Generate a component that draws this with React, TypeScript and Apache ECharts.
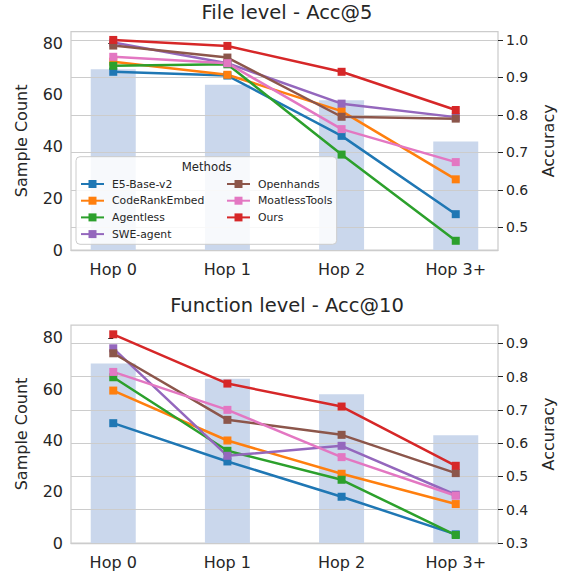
import React, { useEffect, useRef } from "react";
import * as echarts from "echarts";

const categories = ["Hop 0", "Hop 1", "Hop 2", "Hop 3+"];
const methods = ["E5-Base-v2", "CodeRankEmbed", "Agentless", "SWE-agent", "Openhands", "MoatlessTools", "Ours"];
const methodColors = ["#1f77b4", "#ff7f0e", "#2ca02c", "#9467bd", "#8c564b", "#e377c2", "#d62728"];

const sampleCountsFile = [70, 64, 58, 42];
const sampleCountsFunc = [70, 64, 58, 42];

// File level - Acc@5
const fileE5 = [0.915, 0.905, 0.744, 0.535];
const fileCodeRank = [0.942, 0.907, 0.81, 0.628];
const fileAgentless = [0.931, 0.935, 0.694, 0.464];
const fileSWE = [0.993, 0.938, 0.83, 0.794];
const fileOpenhands = [0.985, 0.953, 0.795, 0.79];
const fileMoatless = [0.955, 0.938, 0.762, 0.674];
const fileOurs = [1.0, 0.984, 0.915, 0.813];

// Function level - Acc@10
const funcE5 = [0.66, 0.545, 0.439, 0.326];
const funcCodeRank = [0.758, 0.608, 0.508, 0.417];
const funcAgentless = [0.798, 0.577, 0.49, 0.324];
const funcSWE = [0.885, 0.562, 0.592, 0.445];
const funcOpenhands = [0.87, 0.67, 0.625, 0.51];
const funcMoatless = [0.814, 0.7, 0.558, 0.442];
const funcOurs = [0.927, 0.779, 0.71, 0.532];

const countTicks = [0, 20, 40, 60, 80];
const fileAccTicks = [0.5, 0.6, 0.7, 0.8, 0.9, 1.0];
const funcAccTicks = [0.3, 0.4, 0.5, 0.6, 0.7, 0.8, 0.9];

const FONT = "DejaVu Sans";
const TXT = "#262626";
const GRIDC = "#cccccc";

export default function App() {
  const ref = useRef<HTMLDivElement>(null);
  useEffect(() => {
    if (!ref.current) return;
    const chart = echarts.init(ref.current, undefined, { renderer: "svg" });

    const fileVals = [fileE5, fileCodeRank, fileAgentless, fileSWE, fileOpenhands, fileMoatless, fileOurs];
    const funcVals = [funcE5, funcCodeRank, funcAgentless, funcSWE, funcOpenhands, funcMoatless, funcOurs];

    const grids = [
      { left: 71, top: 31.7, width: 432, height: 218.3 },
      { left: 71, top: 325, width: 432, height: 218 },
    ];

    const xAxes = [0, 1].map((g) => ({
      type: "value",
      gridIndex: g,
      min: -0.37,
      max: 3.37,
      axisLine: { show: true, lineStyle: { color: GRIDC, width: 1.25 } },
      axisTick: { show: false },
      splitLine: { show: false },
      z: 3,
      axisLabel: {
        customValues: [0, 1, 2, 3],
        formatter: (v: number) => (Math.abs(v - Math.round(v)) < 1e-6 && categories[Math.round(v)] ? categories[Math.round(v)] : ""),
        fontSize: 16,
        fontFamily: FONT,
        color: TXT,
        margin: 11,
      },
    }));

    const leftAxis = (g: number, max: number) => ({
      type: "value",
      gridIndex: g,
      position: "left",
      min: 0,
      max,
      name: "Sample Count",
      nameLocation: "middle",
      nameGap: 42,
      nameRotate: 90,
      nameTextStyle: { fontSize: 16, fontFamily: FONT, color: TXT },
      axisLine: { show: false },
      axisTick: { show: true, customValues: countTicks, length: 5, lineStyle: { color: TXT, width: 1 } },
      axisLabel: { customValues: countTicks, fontSize: 16, fontFamily: FONT, color: TXT, margin: 8 },
      splitLine: { show: false },
    });

    const rightAxis = (g: number, min: number, max: number, ticks: number[]) => ({
      type: "value",
      gridIndex: g,
      position: "right",
      min,
      max,
      z: 3,
      name: "Accuracy",
      nameLocation: "middle",
      nameGap: 42,
      nameRotate: 90,
      nameTextStyle: { fontSize: 16, fontFamily: FONT, color: TXT },
      axisLine: { show: false },
      axisTick: { show: true, customValues: ticks, length: 5, lineStyle: { color: TXT, width: 1 } },
      axisLabel: {
        customValues: ticks,
        formatter: (v: number) => v.toFixed(1),
        fontSize: 14,
        fontFamily: FONT,
        color: TXT,
        margin: 8,
      },
      splitLine: { show: true, lineStyle: { color: GRIDC, width: 1 } },
    });

    const yAxes = [
      leftAxis(0, 84.5),
      rightAxis(0, 0.4394, 1.022, fileAccTicks),
      leftAxis(1, 85),
      rightAxis(1, 0.3, 0.955, funcAccTicks),
    ];

    const barSeries = (g: number, counts: number[]) => ({
      type: "bar",
      name: "Sample Count " + g,
      xAxisIndex: g,
      yAxisIndex: 2 * g,
      data: counts.map((c, j) => [j, c]),
      barWidth: 45,
      itemStyle: { color: "#cad7ec" },
      z: 2,
      silent: true,
    });

    const lineSeries = (g: number, vals: number[][]) =>
      methods.map((m, i) => ({
        type: "line",
        name: m,
        xAxisIndex: g,
        yAxisIndex: 2 * g + 1,
        data: vals[i].map((v, j) => [j, v]),
        symbol: "rect",
        symbolSize: 8,
        lineStyle: { width: 2.5, color: methodColors[i] },
        itemStyle: { color: methodColors[i] },
        z: 5,
        silent: true,
      }));

    const legendCommon = {
      orient: "vertical",
      itemWidth: 23,
      itemHeight: 10,
      itemGap: 4.7,
      padding: 0,
      z: 20,
      selectedMode: false,
      textStyle: { fontSize: 10.8, fontFamily: FONT, color: TXT, lineHeight: 12, padding: [0, 0, 0, 3] },
    };

    chart.setOption({
      animation: false,
      grid: grids.map((g) => ({ ...g, show: true, borderColor: GRIDC, borderWidth: 1.25, backgroundColor: "transparent" })),
      xAxis: xAxes,
      yAxis: yAxes,
      legend: [
        { ...legendCommon, data: methods.slice(0, 4), left: 80, top: 178 },
        { ...legendCommon, data: methods.slice(4), left: 226, top: 178 },
      ],
      graphic: [
        {
          type: "text",
          x: 287,
          y: 12.5,
          style: { text: "File level - Acc@5", fontSize: 19.5, fontFamily: FONT, fill: TXT, textAlign: "center", textVerticalAlign: "middle" },
        },
        {
          type: "text",
          x: 287,
          y: 305.8,
          style: { text: "Function level - Acc@10", fontSize: 19.5, fontFamily: FONT, fill: TXT, textAlign: "center", textVerticalAlign: "middle" },
        },
        {
          type: "rect",
          z: 10,
          shape: { x: 76, y: 156.7, width: 260.7, height: 87.6, r: 4 },
          style: { fill: "rgba(255,255,255,0.85)", stroke: GRIDC, lineWidth: 1 },
        },
        {
          type: "text",
          z: 11,
          x: 206.7,
          y: 166.7,
          style: { text: "Methods", fontSize: 11.7, fontFamily: FONT, fill: TXT, textAlign: "center", textVerticalAlign: "middle" },
        },
      ],
      series: [
        barSeries(0, sampleCountsFile),
        barSeries(1, sampleCountsFunc),
        ...lineSeries(0, fileVals),
        ...lineSeries(1, funcVals),
      ],
    });
    return () => chart.dispose();
  }, []);
  return <div ref={ref} style={{ position: "fixed", left: 0, top: 0, width: 564, height: 576, background: "#fff" }} />;
}
